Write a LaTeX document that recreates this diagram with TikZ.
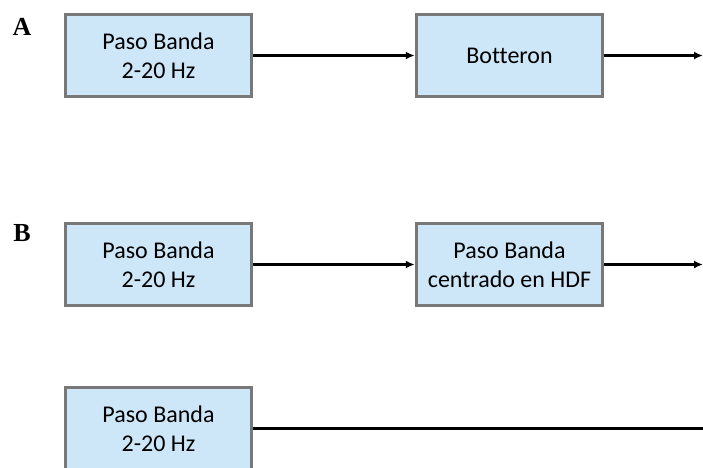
\documentclass[tikz,border=0pt]{standalone}
\usepackage{fontspec}
\setmainfont{Carlito}[Ligatures=NoCommon]
\newfontfamily\labelfont{Liberation Serif}
\usetikzlibrary{arrows.meta}
\definecolor{boxfill}{RGB}{205,231,248}
\definecolor{boxline}{RGB}{120,120,120}
\tikzset{
  filtbox/.style={draw=boxline, line width=3.5pt, fill=boxfill, minimum width=186pt,
    minimum height=82pt, align=center, font=\fontsize{24}{29}\selectfont, inner sep=0pt},
  panel/.style={font=\labelfont\bfseries\fontsize{26}{26}\selectfont},
  flow/.style={line width=2.5pt, -{Latex[length=9pt,width=8pt]}}
}
\begin{document}
\begin{tikzpicture}[x=1pt,y=1pt]
\useasboundingbox (0,0) rectangle (703,-467);
\clip (0,0) rectangle (703,-467);
% A
\node[panel] (labA) at (22,-27) {A};
\node[filtbox] (a1) at (158.5,-55.5) {Paso Banda\\2-20 Hz};
\node[filtbox] (a2) at (509.5,-55.5) {Botteron};
\coordinate (aout) at (703,-55.5);
\draw[flow] (a1) -- (a2);
\draw[flow] (a2) -- (aout);
% B
\node[panel] (labB) at (22,-233) {B};
\node[filtbox] (b1) at (158.5,-264.5) {Paso Banda\\2-20 Hz};
\node[filtbox] (b2) at (509.5,-264.5) {Paso Banda\\centrado en HDF};
\coordinate (bout) at (703,-264.5);
\draw[flow] (b1) -- (b2);
\draw[flow] (b2) -- (bout);
% rama directa
\node[filtbox] (c1) at (158.5,-428.5) {Paso Banda\\2-20 Hz};
\coordinate (cout) at (703,-428.5);
\draw[line width=2.5pt] (c1) -- (cout);
\end{tikzpicture}
\end{document}
